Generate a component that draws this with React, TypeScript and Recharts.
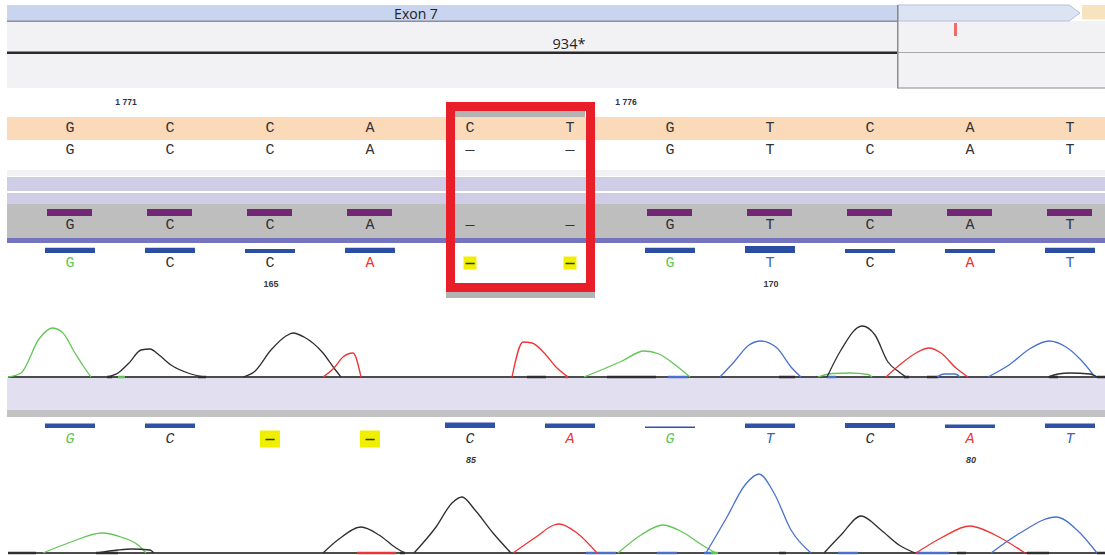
import React from 'react';
import {
  ComposedChart,
  LineChart,
  BarChart,
  Line,
  Bar,
  Scatter,
  XAxis,
  YAxis,
  ReferenceArea,
} from 'recharts';

const W = 1105;
const H = 555;

// ---------- data ----------
const baseIndex = [0, 1, 2, 3, 4, 5, 6, 7, 8, 9, 10];
const referenceBases = ['G', 'C', 'C', 'A', 'C', 'T', 'G', 'T', 'C', 'A', 'T'];
const alignedBases = ['G', 'C', 'C', 'A', '—', '—', 'G', 'T', 'C', 'A', 'T'];
const consensusBases = ['G', 'C', 'C', 'A', '—', '—', 'G', 'T', 'C', 'A', 'T'];
const consensusCoverage = [1, 1, 1, 1, 0, 0, 1, 1, 1, 1, 1];
const read1Bases = ['G', 'C', 'C', 'A', '—', '—', 'G', 'T', 'C', 'A', 'T'];
const read1Quality = [42, 42, 32, 42, 0, 0, 42, 56, 32, 32, 42];
const read2Bases = ['G', 'C', '—', '—', 'C', 'A', 'G', 'T', 'C', 'A', 'T'];
const read2Quality = [36, 36, 0, 0, 44, 36, 12, 36, 40, 28, 36];
const refPositionLabels = [
  { base: 0, text: '1 771' },
  { base: 5, text: '1 776' },
];
const read1PositionLabels = [
  { base: 2, text: '165' },
  { base: 7, text: '170' },
];
const read2PositionLabels = [
  { base: 4, text: '85' },
  { base: 9, text: '80' },
];

// chromatogram traces: [scan, intensity]
const trace1Peaks: { ch: string; pts: number[][] }[] = [
  { ch: 'G', pts: [[8, 0], [21, 80], [39, 760], [52, 980], [62, 900], [75, 480], [84, 200], [91, 0]] },
  { ch: 'C', pts: [[107, 0], [118, 80], [129, 280], [141, 540], [150, 560], [159, 440], [171, 240], [188, 80], [204, 0]] },
  { ch: 'C', pts: [[243, 0], [254, 100], [271, 540], [286, 820], [293, 880], [304, 800], [323, 480], [334, 180], [341, 0]] },
  { ch: 'A', pts: [[323, 0], [334, 180], [343, 400], [353, 480], [361, 0]] },
  { ch: 'A', pts: [[512, 0], [523, 700], [532, 680], [546, 440], [556, 200], [568, 0]] },
  { ch: 'G', pts: [[584, 0], [606, 180], [622, 320], [644, 520], [659, 460], [674, 260], [690, 0]] },
  { ch: 'T', pts: [[720, 0], [734, 300], [749, 640], [761, 720], [777, 580], [791, 200], [801, 0]] },
  { ch: 'G', pts: [[818, 0], [833, 70], [850, 80], [868, 50], [872, 0]] },
  { ch: 'C', pts: [[827, 0], [841, 540], [862, 1020], [875, 840], [888, 300], [899, 100], [906, 0]] },
  { ch: 'A', pts: [[886, 0], [902, 280], [916, 480], [929, 580], [941, 480], [956, 180], [968, 0]] },
  { ch: 'T', pts: [[937, 0], [944, 60], [955, 60], [960, 0]] },
  { ch: 'T', pts: [[988, 0], [1009, 240], [1031, 580], [1049, 720], [1066, 600], [1081, 340], [1095, 0]] },
  { ch: 'C', pts: [[1048, 0], [1058, 60], [1070, 80], [1090, 60], [1097, 0]] },
];
const trace1Blips = [
  { ch: 'C', x0: 107, x1: 112 }, { ch: 'G', x0: 118, x1: 125 }, { ch: 'C', x0: 198, x1: 206 },
  { ch: 'C', x0: 527, x1: 546 }, { ch: 'A', x0: 565, x1: 568 }, { ch: 'C', x0: 607, x1: 656 },
  { ch: 'T', x0: 668, x1: 688 }, { ch: 'C', x0: 779, x1: 795 }, { ch: 'T', x0: 827, x1: 836 },
  { ch: 'C', x0: 904, x1: 909 }, { ch: 'C', x0: 927, x1: 938 }, { ch: 'C', x0: 1049, x1: 1058 },
  { ch: 'C', x0: 1097, x1: 1105 },
];
const trace2Peaks: { ch: string; pts: number[][] }[] = [
  { ch: 'G', pts: [[43, 0], [71, 220], [102, 400], [121, 320], [138, 160], [146, 0]] },
  { ch: 'C', pts: [[97, 0], [118, 60], [132, 80], [150, 60], [154, 0]] },
  { ch: 'C', pts: [[323, 0], [339, 280], [361, 520], [379, 360], [396, 100], [405, 0]] },
  { ch: 'C', pts: [[414, 0], [436, 520], [452, 1000], [462, 1120], [475, 860], [493, 400], [511, 0]] },
  { ch: 'A', pts: [[513, 0], [536, 320], [554, 560], [559, 580], [577, 400], [597, 0]] },
  { ch: 'G', pts: [[618, 0], [641, 360], [663, 560], [684, 400], [702, 160], [716, 0]] },
  { ch: 'T', pts: [[706, 0], [727, 720], [745, 1360], [759, 1580], [774, 1200], [791, 460], [811, 0]] },
  { ch: 'C', pts: [[824, 0], [841, 360], [861, 740], [881, 460], [899, 160], [915, 0]] },
  { ch: 'A', pts: [[916, 0], [941, 300], [970, 540], [995, 360], [1025, 0]] },
  { ch: 'T', pts: [[991, 0], [1020, 400], [1056, 720], [1077, 460], [1097, 0]] },
];
const trace2Blips = [
  { ch: 'C', x0: 8, x1: 36 }, { ch: 'C', x0: 96, x1: 118 }, { ch: 'A', x0: 357, x1: 396 },
  { ch: 'C', x0: 400, x1: 405 }, { ch: 'T', x0: 586, x1: 616 }, { ch: 'T', x0: 657, x1: 677 },
  { ch: 'T', x0: 704, x1: 713 }, { ch: 'G', x0: 711, x1: 718 }, { ch: 'C', x0: 779, x1: 786 },
  { ch: 'T', x0: 838, x1: 858 }, { ch: 'T', x0: 916, x1: 949 }, { ch: 'C', x0: 957, x1: 966 },
  { ch: 'C', x0: 1027, x1: 1049 }, { ch: 'C', x0: 1097, x1: 1105 },
];

// ---------- styles ----------
const baseColor: Record<string, string> = { A: '#ee3434', C: '#2e2e2e', G: '#62c655', T: '#4a72cc' };
const textColor: Record<string, string> = { A: '#ee3434', C: '#333333', G: '#62c655', T: '#3f62bf' };
const monoFont = "'Courier New', 'Nimbus Mono PS', FreeMono, 'Liberation Mono', monospace";
const sansFont = "'Open Sans', 'Liberation Sans', sans-serif";
const smallFont = "'Liberation Sans', Arial, sans-serif";
const X_DOMAIN: [number, number] = [-0.7, 10.35];
const px = (p: number) => (p - 70) / 100;

const band = (key: string, x1: number, x2: number, y1: number, y2: number, fill: string) => (
  <ReferenceArea
    key={key}
    x1={px(x1)}
    x2={px(x2)}
    y1={y1}
    y2={y2}
    fill={fill}
    fillOpacity={1}
    stroke="none"
    ifOverflow="visible"
  />
);

const rowData = (bases: string[], y: number, hlGaps = false) =>
  bases.map((b, i) => ({ x: baseIndex[i], y, b, hl: hlGaps && b === '—' }));

const letterShape =
  (opts: { colored?: boolean; italic?: boolean; hlW?: number; hlH?: number; size?: number }) =>
  (p: any) => {
    const { cx, cy, payload } = p;
    const gap = payload.b === '—';
    const fill = opts.colored && !gap ? textColor[payload.b] : '#333';
    const w = opts.hlW ?? 13;
    const h = opts.hlH ?? 13;
    return (
      <g>
        {payload.hl && <rect x={cx - w / 2} y={cy - h / 2} width={w} height={h} fill="#f1ef00" />}
        <text
          x={cx}
          y={cy}
          textAnchor="middle"
          dominantBaseline="central"
          fontFamily={monoFont}
          fontSize={opts.size ?? 15}
          fontStyle={opts.italic ? 'italic' : 'normal'}
          fontWeight={gap && payload.hl ? 700 : 400}
          fill={fill}
        >
          {payload.b}
        </text>
      </g>
    );
  };

const textShape =
  (style: { size: number; family: string; weight?: number; italic?: boolean; color?: string }) =>
  (p: any) => (
    <text
      x={p.cx}
      y={p.cy}
      textAnchor="middle"
      dominantBaseline="central"
      fontFamily={style.family}
      fontSize={style.size}
      fontWeight={style.weight ?? 400}
      fontStyle={style.italic ? 'italic' : 'normal'}
      fill={style.color ?? '#222'}
    >
      {p.payload.t}
    </text>
  );

function MainLayer() {
  return (
    <ComposedChart width={W} height={H} margin={{ top: 0, right: 0, bottom: 0, left: 0 }}>
      <XAxis type="number" dataKey="x" domain={X_DOMAIN} hide />
      <YAxis type="number" dataKey="y" domain={[0, H]} reversed hide />
      {/* header / annotation track */}
      {band('hdrbg', 7, 1105, 21, 88, '#f2f2f4')}
      {band('exon', 7, 898, 5, 21, '#c9d5ee')}
      <ReferenceArea
        x1={px(898)}
        x2={px(1080)}
        y1={5}
        y2={21}
        ifOverflow="visible"
        shape={(p: any) => (
          <path
            d={`M${p.x},${p.y} H${p.x + p.width - 11} L${p.x + p.width},${p.y + p.height / 2} L${p.x + p.width - 11},${p.y + p.height} H${p.x} Z`}
            fill="#dce4f3"
            stroke="#b7c0d6"
            strokeWidth={1}
          />
        )}
      />
      {band('cds', 1082, 1105, 5, 19.5, '#f8e3bf')}
      {band('exonLine', 7, 898, 20.5, 22, '#8890a8')}
      {band('dbl', 7, 898, 51.5, 54, '#2a2a2a')}
      {band('dblR', 898, 1105, 52, 53, '#a8a8a8')}
      {band('vline', 897, 898.5, 5, 88.5, '#8c8c8c')}
      {band('hline', 898, 1105, 87.5, 88.5, '#8c8c8c')}
      {band('tick', 954, 957, 23, 36, '#f06a6a')}
      {/* sequence tracks */}
      {band('ref', 7, 1105, 117, 140, '#fbdab9')}
      {band('strip', 7, 1105, 170, 176, '#f2f2f5')}
      {band('lav1', 7, 1105, 177, 191, '#cfcde6')}
      {band('lav2', 7, 1105, 193, 204, '#cfcde6')}
      {band('gray', 7, 1105, 204, 238, '#bebebe')}
      {band('blue', 7, 1105, 238, 243, '#7575bf')}
      {band('boxTop', 455, 585, 111, 117, '#b3b3b3')}
      {band('boxBot', 446, 595, 292, 298, '#b3b3b3')}
      {band('lav3', 7, 1105, 378, 410, '#e1dff0')}
      {band('gray2', 7, 1105, 410, 417, '#c2c2c2')}
      <ReferenceArea
        x1={px(450.5)}
        x2={px(590.5)}
        y1={106.5}
        y2={287.5}
        fill="none"
        fillOpacity={0}
        stroke="#e81f28"
        strokeWidth={9}
        ifOverflow="visible"
      />
      {/* texts */}
      <Scatter
        data={[{ x: px(416), y: 13, t: 'Exon 7' }]}
        shape={textShape({ size: 14, family: sansFont })}
        isAnimationActive={false}
      />
      <Scatter
        data={[{ x: px(569), y: 43.5, t: '934*' }]}
        shape={textShape({ size: 14.5, family: sansFont })}
        isAnimationActive={false}
      />
      <Scatter
        data={refPositionLabels.map((l) => ({ x: l.base + 0.56, y: 102, t: l.text }))}
        shape={textShape({ size: 8.5, family: smallFont, weight: 700, color: '#2b3050' })}
        isAnimationActive={false}
      />
      <Scatter
        data={read1PositionLabels.map((l) => ({ x: l.base + 0.01, y: 284, t: l.text }))}
        shape={textShape({ size: 9, family: smallFont, weight: 700, color: '#3a3a3a' })}
        isAnimationActive={false}
      />
      <Scatter
        data={read2PositionLabels.map((l) => ({ x: l.base + 0.01, y: 460, t: l.text }))}
        shape={textShape({ size: 9, family: smallFont, weight: 700, italic: true, color: '#3a3a3a' })}
        isAnimationActive={false}
      />
      <Scatter data={rowData(referenceBases, 128)} shape={letterShape({})} isAnimationActive={false} />
      <Scatter data={rowData(alignedBases, 150)} shape={letterShape({})} isAnimationActive={false} />
      <Scatter data={rowData(consensusBases, 225)} shape={letterShape({})} isAnimationActive={false} />
      <Scatter
        data={rowData(read1Bases, 263, true)}
        shape={letterShape({ colored: true, hlW: 13, hlH: 13 })}
        isAnimationActive={false}
      />
      <Scatter
        data={rowData(read2Bases, 439, true)}
        shape={letterShape({ colored: true, italic: true, hlW: 20, hlH: 17 })}
        isAnimationActive={false}
      />
    </ComposedChart>
  );
}

function BarRow({ values, top, height, max, color, size }: { values: number[]; top: number; height: number; max: number; color: string; size: number }) {
  const data = values.map((v, i) => ({ x: baseIndex[i], v }));
  return (
    <div style={{ position: 'absolute', left: 0, top, width: W, height }}>
      <BarChart width={W} height={height} data={data} margin={{ top: 0, right: 0, bottom: 0, left: 0 }}>
        <XAxis type="number" dataKey="x" domain={X_DOMAIN} hide />
        <YAxis type="number" domain={[0, max]} hide />
        <Bar dataKey="v" fill={color} barSize={size} isAnimationActive={false} />
      </BarChart>
    </div>
  );
}

function Trace({ peaks, blips, top, height, yMax }: { peaks: { ch: string; pts: number[][] }[]; blips: { ch: string; x0: number; x1: number }[]; top: number; height: number; yMax: number }) {
  return (
    <div style={{ position: 'absolute', left: 0, top, width: W, height }}>
      <LineChart width={W} height={height} margin={{ top: 0, right: 0, bottom: 2, left: 0 }}>
        <XAxis type="number" dataKey="x" domain={[0, W]} hide />
        <YAxis type="number" domain={[0, yMax]} hide />
        <Line
          data={[{ x: 8, y: 0 }, { x: 1105, y: 0 }]}
          dataKey="y"
          stroke="#111"
          strokeWidth={1.6}
          dot={false}
          type="linear"
          isAnimationActive={false}
        />
        {blips.map((b, k) => (
          <Line
            key={'b' + k}
            data={[{ x: b.x0, y: 0 }, { x: b.x1, y: 0 }]}
            dataKey="y"
            stroke={baseColor[b.ch]}
            strokeWidth={2.5}
            dot={false}
            type="linear"
            isAnimationActive={false}
          />
        ))}
        {peaks.map((pk, k) => (
          <Line
            key={'p' + k}
            data={pk.pts.map(([x, y]) => ({ x, y }))}
            dataKey="y"
            stroke={baseColor[pk.ch]}
            strokeWidth={1.3}
            dot={false}
            type="monotone"
            isAnimationActive={false}
          />
        ))}
      </LineChart>
    </div>
  );
}

export default function App() {
  return (
    <div style={{ position: 'absolute', left: 0, top: 0, width: W, height: H, overflow: 'hidden', background: '#fff' }}>
      <div style={{ position: 'absolute', left: 0, top: 0 }}>
        <MainLayer />
      </div>
      <BarRow values={consensusCoverage} top={209} height={7} max={1} color="#722674" size={45} />
      <BarRow values={read1Quality} top={243} height={10} max={80} color="#2b4ea3" size={50} />
      <BarRow values={read2Quality} top={418} height={10} max={80} color="#2f51a7" size={50} />
      <Trace peaks={trace1Peaks} blips={trace1Blips} top={308} height={71} yMax={1380} />
      <Trace peaks={trace2Peaks} blips={trace2Blips} top={466} height={89} yMax={1740} />
    </div>
  );
}
